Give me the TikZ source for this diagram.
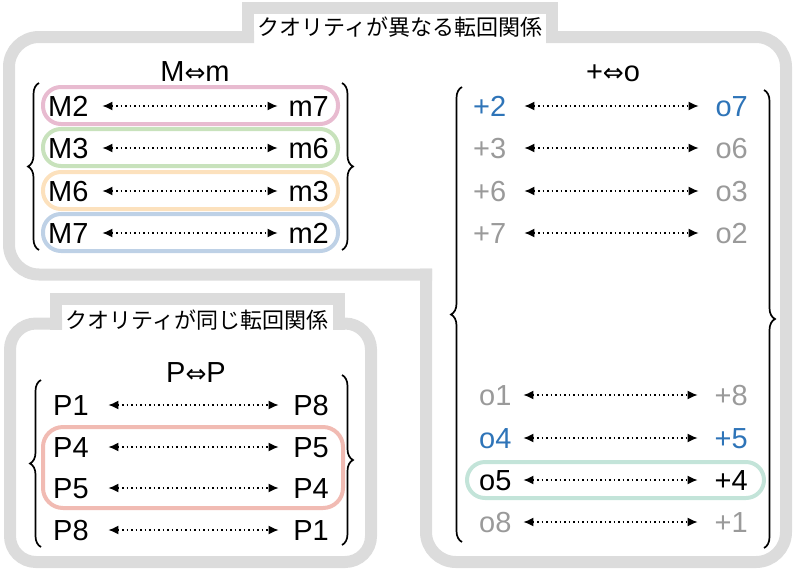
\documentclass[tikz,border=0pt]{standalone}
\usepackage{fontspec}
\setmainfont{Liberation Sans}
\newfontfamily\jpfont{Noto Sans CJK JP}
\newfontfamily\symfont{DejaVu Sans}
\usetikzlibrary{arrows.meta,decorations.pathreplacing}

\definecolor{framegray}{HTML}{DCDCDC}
\definecolor{pinkb}{HTML}{E8BBD0}
\definecolor{greenb}{HTML}{C8E2BC}
\definecolor{orangeb}{HTML}{FCE1BD}
\definecolor{blueb}{HTML}{BED1E6}
\definecolor{salmonb}{HTML}{F1BBB3}
\definecolor{tealb}{HTML}{C3E4D9}
\definecolor{grayt}{HTML}{9A9A9A}
\definecolor{bluet}{HTML}{2E74B8}

\newcommand{\dblarr}{{\symfont\fontsize{25}{25}\selectfont ⇔}}

\tikzset{
  band/.style={draw=framegray, line width=12pt},
  ttl/.style={inner sep=1pt, font=\jpfont\fontsize{22}{22}\selectfont},
  hdr/.style={inner sep=0pt, font=\fontsize{29}{29}\selectfont},
  lt/.style={anchor=west, inner sep=0pt, text width=#1, align=left,
    text height=21pt, text depth=0pt, font=\fontsize{29}{29}\selectfont},
  rt/.style={anchor=east, inner sep=0pt, text width=#1, align=right,
    text height=21pt, text depth=0pt, font=\fontsize{29}{29}\selectfont},
  pairarr/.style={{Latex[length=10pt,width=9pt]}-{Latex[length=10pt,width=9pt]},
    line width=1.5pt, dash pattern=on 1.5pt off 3pt},
  pill/.style={draw=#1, line width=4pt, rounded corners=18pt},
  brace/.style={decorate, decoration={brace, amplitude=11pt}, line width=1.7pt}
}

\begin{document}
\begin{tikzpicture}[x=1pt, y=-1pt]
    \useasboundingbox (0,0) rectangle (800,571);

    % Cadres gris
    \draw[band, rounded corners=30pt, line cap=rect] (248,37) -- (9,37) -- (9,274.5) -- (426,274.5);
    \draw[band, rounded corners=30pt, line cap=rect] (426,274.5) -- (426,562) -- (786,562) -- (786,37) -- (552,37);
    \draw[band, line cap=rect] (248,37) -- (248,8) -- (552,8) -- (552,37);
    \draw[band, line cap=rect] (56,323.5) -- (56,299) -- (339,299) -- (339,323.5);
    \draw[band, rounded corners=26pt, line cap=rect] (339,323.5) -- (371,323.5) -- (371,562) -- (10,562) -- (10,323.5) -- (56,323.5);

    % Titres
    \node[ttl] (diff) at (400,27) {クオリティが異なる転回関係};
    \node[ttl] (same) at (197,320) {クオリティが同じ転回関係};

    % M <-> m
    \node[hdr] (hMm) at (195,72) {M\dblarr m};
    \draw[pill=pinkb] (43,87) rectangle (338,124);
    \draw[pill=greenb] (43,129) rectangle (338,166);
    \draw[pill=orangeb] (43,172) rectangle (338,209);
    \draw[pill=blueb] (43,214) rectangle (338,251);
    \node[lt=54pt] (M2) at (48,106) {M2}; \node[rt=51pt] (m7) at (329,106) {m7}; \draw[pairarr] (M2) -- (m7);
    \node[lt=54pt] (M3) at (48,148) {M3}; \node[rt=51pt] (m6) at (329,148) {m6}; \draw[pairarr] (M3) -- (m6);
    \node[lt=54pt] (M6) at (48,191) {M6}; \node[rt=51pt] (m3) at (329,191) {m3}; \draw[pairarr] (M6) -- (m3);
    \node[lt=54pt] (M7) at (48,233) {M7}; \node[rt=51pt] (m2) at (329,233) {m2}; \draw[pairarr] (M7) -- (m2);
    \draw[brace] (39,250) -- (39,83);
    \draw[brace] (342,83) -- (342,250);

    % + <-> o
    \node[hdr] (hAo) at (613,73) {+\dblarr o};
    \draw[pill=tealb] (467,462) rectangle (764,498);
    \node[lt=51pt, text=bluet] (A2) at (473,106) {+2}; \node[rt=49pt, text=bluet] (o7) at (748,106) {o7}; \draw[pairarr] (A2) -- (o7);
    \node[lt=51pt, text=grayt] (A3) at (473,148) {+3}; \node[rt=49pt, text=grayt] (o6) at (748,148) {o6}; \draw[pairarr] (A3) -- (o6);
    \node[lt=51pt, text=grayt] (A6) at (473,191) {+6}; \node[rt=49pt, text=grayt] (o3) at (748,191) {o3}; \draw[pairarr] (A6) -- (o3);
    \node[lt=51pt, text=grayt] (A7) at (473,233) {+7}; \node[rt=49pt, text=grayt] (o2) at (748,233) {o2}; \draw[pairarr] (A7) -- (o2);
    \node[lt=44pt, text=grayt] (o1) at (479,395) {o1}; \node[rt=50pt, text=grayt] (A8) at (748,395) {+8}; \draw[pairarr] (o1) -- (A8);
    \node[lt=44pt, text=bluet] (o4) at (479,438) {o4}; \node[rt=50pt, text=bluet] (A5) at (748,438) {+5}; \draw[pairarr] (o4) -- (A5);
    \node[lt=44pt] (o5) at (479,480) {o5}; \node[rt=50pt] (A4) at (748,480) {+4}; \draw[pairarr] (o5) -- (A4);
    \node[lt=44pt, text=grayt] (o8) at (479,522) {o8}; \node[rt=50pt, text=grayt] (A1) at (748,522) {+1}; \draw[pairarr] (o8) -- (A1);
    \draw[brace] (462,542) -- (462,87);
    \draw[brace] (764,90) -- (764,548);

    % P <-> P
    \node[hdr] (hPP) at (196,373) {P\dblarr P};
    \draw[pill=salmonb, rounded corners=20pt] (43,427) rectangle (343,508);
    \node[lt=55pt] (P1a) at (53,405) {P1}; \node[rt=50pt] (P8a) at (329,405) {P8}; \draw[pairarr] (P1a) -- (P8a);
    \node[lt=55pt] (P4a) at (53,447) {P4}; \node[rt=50pt] (P5a) at (329,447) {P5}; \draw[pairarr] (P4a) -- (P5a);
    \node[lt=55pt] (P5b) at (53,488) {P5}; \node[rt=50pt] (P4b) at (329,488) {P4}; \draw[pairarr] (P5b) -- (P4b);
    \node[lt=55pt] (P8b) at (53,530) {P8}; \node[rt=50pt] (P1b) at (329,530) {P1}; \draw[pairarr] (P8b) -- (P1b);
    \draw[brace] (41,547) -- (41,380);
    \draw[brace] (342,375) -- (342,545);
\end{tikzpicture}
\end{document}
